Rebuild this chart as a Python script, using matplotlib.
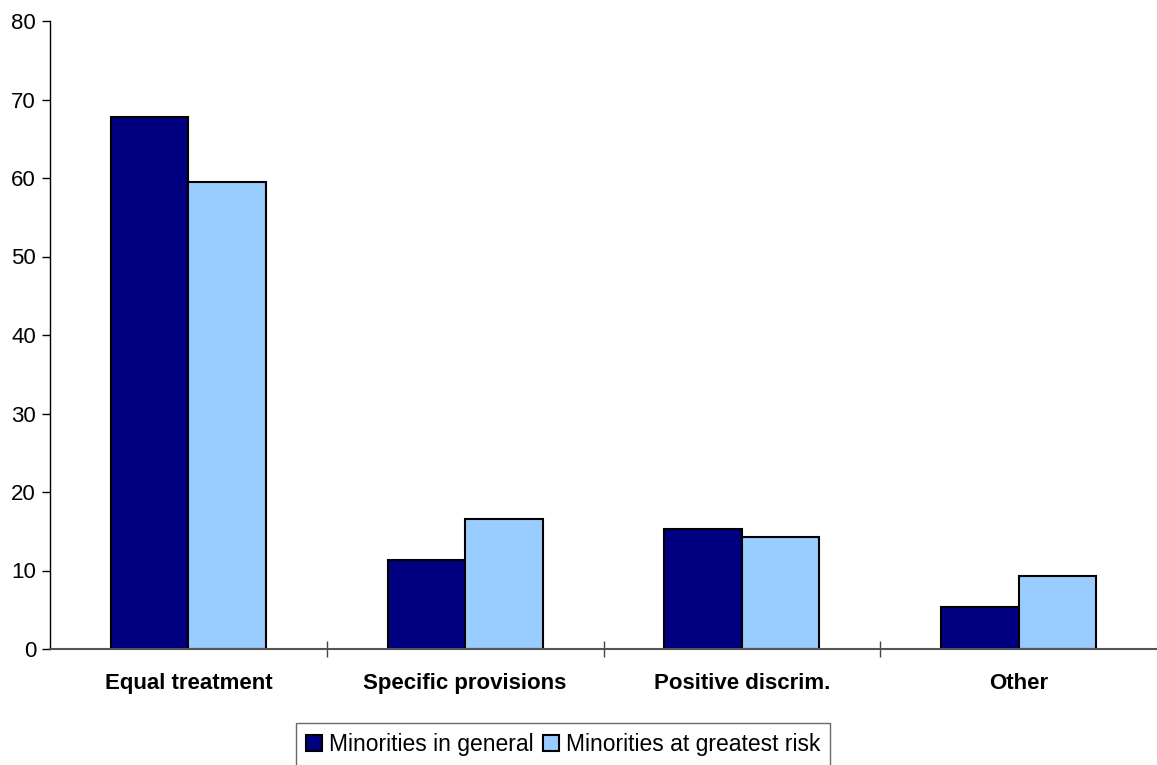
import numpy as np
import matplotlib.pyplot as plt

plt.rcParams['font.family'] = ['Liberation Sans', 'DejaVu Sans']

categories = ['Equal treatment', 'Specific provisions', 'Positive discrim.', 'Other']
general = [67.8, 11.3, 15.3, 5.4]
greatest_risk = [59.5, 16.6, 14.3, 9.3]
series_names = ['Minorities in general', 'Minorities at greatest risk']

fig = plt.figure(figsize=(11.57, 7.65), dpi=100)
ax = fig.add_axes([50/1157, 116/765, 1107/1157, 628/765])

x = np.arange(len(categories))
w = 0.28
ax.bar(x - w/2, general, w, color='#000080', edgecolor='black', linewidth=1.5, label=series_names[0])
ax.bar(x + w/2, greatest_risk, w, color='#99ccff', edgecolor='black', linewidth=1.5, label=series_names[1])

ax.set_xlim(-0.5, len(categories) - 0.5)
ax.set_ylim(0, 80)
ax.set_yticks(np.arange(0, 81, 10))
ax.tick_params(axis='y', labelsize=16, length=6, width=1, direction='out', pad=4)

ax.set_xticks(np.arange(len(categories) - 1) + 0.5)
ax.set_xticklabels([])
ax.tick_params(axis='x', length=12, width=1, direction='inout', color='#444444')
ax.set_xticks(x, minor=True)
ax.set_xticklabels(categories, minor=True, fontsize=16, fontweight='bold')
ax.tick_params(axis='x', which='minor', length=0, pad=17)

for s in ['top', 'right']:
    ax.spines[s].set_visible(False)
ax.spines['left'].set_linewidth(1)
ax.spines['bottom'].set_color('#555555')
ax.spines['bottom'].set_linewidth(1.5)

leg = fig.legend(loc='upper center', bbox_to_anchor=(563/1157, 1 - 723/765), ncol=2,
                 fontsize=16.5, frameon=True, fancybox=False, edgecolor='#444444',
                 handlelength=0.7, handleheight=0.7, handletextpad=0.3, columnspacing=0.4,
                 borderpad=0.45, borderaxespad=0)
leg.get_frame().set_linewidth(1)

fig.savefig('out.png', dpi=100)
